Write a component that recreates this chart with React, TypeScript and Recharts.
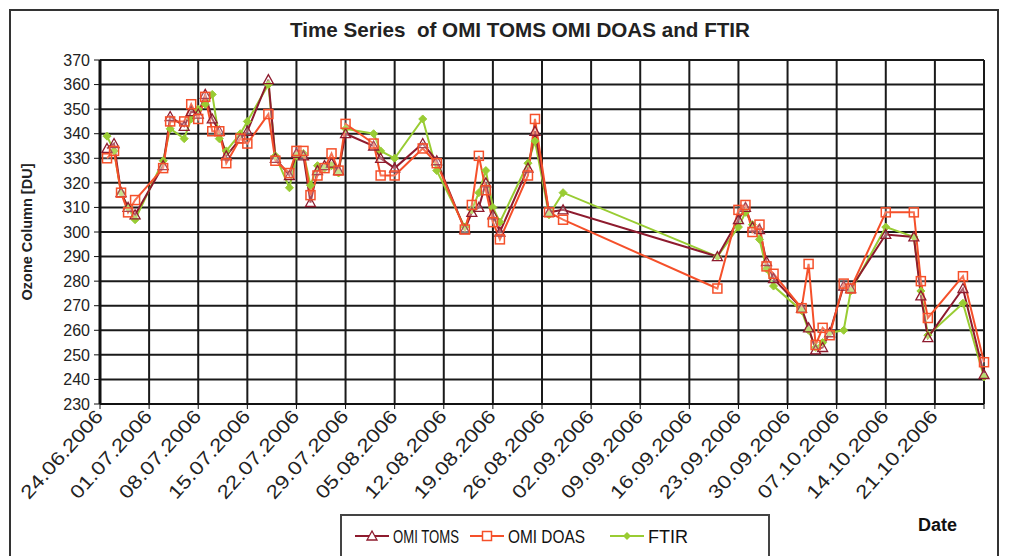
import React from 'react';
import { LineChart, Line, XAxis, YAxis, CartesianGrid, Legend } from 'recharts';

// ---- data ----
const dates = [
  '25.06.2006', '26.06.2006', '27.06.2006', '28.06.2006', '29.06.2006',
  '03.07.2006', '04.07.2006', '06.07.2006', '07.07.2006', '08.07.2006',
  '09.07.2006', '10.07.2006', '11.07.2006', '12.07.2006', '14.07.2006',
  '15.07.2006', '18.07.2006', '19.07.2006', '21.07.2006', '22.07.2006',
  '23.07.2006', '24.07.2006', '25.07.2006', '26.07.2006', '27.07.2006',
  '28.07.2006', '29.07.2006', '02.08.2006', '03.08.2006', '05.08.2006',
  '09.08.2006', '11.08.2006', '15.08.2006', '16.08.2006', '17.08.2006',
  '18.08.2006', '19.08.2006', '20.08.2006', '24.08.2006', '25.08.2006',
  '27.08.2006', '29.08.2006', '20.09.2006', '23.09.2006', '24.09.2006',
  '25.09.2006', '26.09.2006', '27.09.2006', '28.09.2006', '02.10.2006',
  '03.10.2006', '04.10.2006', '05.10.2006', '06.10.2006', '08.10.2006',
  '09.10.2006', '14.10.2006', '18.10.2006', '19.10.2006', '20.10.2006',
  '25.10.2006', '28.10.2006',
];
const omiToms = [
  334, 336, 316, 310, 307,
  327, 347, 343, 349, 348,
  356, 346, 341, 331, 338,
  341, 362, 330, 323, 332,
  331, 312, 325, 327, 328,
  325, 340, 335, 330, 326,
  336, 329, 301, 308, 310,
  320, 307, 300, 326, 341,
  308, 309, 290, 305, 310,
  302, 301, 288, 281, 269,
  261, 252, 253, 259, 278,
  277, 299, 298, 274, 257,
  277, 242,
];
const omiDoas = [
  330, 333, 316, 308, 313,
  326, 345, 345, 352, 346,
  355, 341, 341, 328, 338,
  336, 348, 329, 324, 333,
  333, 315, 323, 326, 332,
  325, 344, 336, 323, 323,
  334, 328, 301, 311, 331,
  317, 304, 297, 323, 346,
  308, 305, 277, 309, 311,
  300, 303, 286, 283, 269,
  287, 254, 261, 258, 279,
  277, 308, 308, 280, 265,
  282, 247,
];
const ftir = [
  339, 333, 316, 310, 305,
  329, 342, 338, 346, 350,
  352, 356, 338, 333, 340,
  345, 360, 331, 318, 331,
  332, 319, 327, 326, 327,
  324, 342, 340, 333, 330,
  346, 325, 302, 309, 316,
  325, 310, 304, 328, 337,
  307, 316, 290, 302, 308,
  303, 297, 285, 278, 268,
  260, 253, 255, 259, 260,
  276, 302, 298, 276, 258,
  271, 241,
];
const tickLabels = [
  '24.06.2006', '01.07.2006', '08.07.2006', '15.07.2006', '22.07.2006',
  '29.07.2006', '05.08.2006', '12.08.2006', '19.08.2006', '26.08.2006',
  '02.09.2006', '09.09.2006', '16.09.2006', '23.09.2006', '30.09.2006',
  '07.10.2006', '14.10.2006', '21.10.2006',
];
const axisEnd = '28.10.2006';
const yTicks = [230, 240, 250, 260, 270, 280, 290, 300, 310, 320, 330, 340, 350, 360, 370];

// ---- helpers ----
const START = Date.UTC(2006, 5, 24);
const dayOf = (s: string) => {
  const [d, m, y] = s.split('.').map(Number);
  return Math.round((Date.UTC(y, m - 1, d) - START) / 86400000);
};
const endDay = dayOf(axisEnd);
const xTicks = [...tickLabels.map(dayOf), endDay];
const labelByDay: Record<number, string> = {};
tickLabels.forEach((l) => { labelByDay[dayOf(l)] = l; });

const data = dates.map((d, i) => ({
  t: dayOf(d),
  toms: omiToms[i],
  doas: omiDoas[i],
  ftir: ftir[i],
}));

const C_TOMS = '#8E1B2E';
const C_DOAS = '#F5502A';
const C_FTIR = '#99CC33';
const FONT = '"Liberation Sans", Arial, sans-serif';

const TriDot = (p: any) => {
  const { cx, cy } = p;
  if (cx == null || cy == null) return null;
  return <path key={`t${cx}`} d={`M${cx},${cy - 5} L${cx + 5},${cy + 4} L${cx - 5},${cy + 4} Z`} fill="#fff" fillOpacity={0.3} stroke={C_TOMS} strokeWidth={1.3} />;
};
const SqDot = (p: any) => {
  const { cx, cy } = p;
  if (cx == null || cy == null) return null;
  return <rect key={`s${cx}`} x={cx - 4.5} y={cy - 4.5} width={9} height={9} fill="#fff" fillOpacity={0.2} stroke={C_DOAS} strokeWidth={1.5} />;
};
const DiaDot = (p: any) => {
  const { cx, cy } = p;
  if (cx == null || cy == null) return null;
  return <path key={`d${cx}`} d={`M${cx},${cy - 4} L${cx + 4},${cy} L${cx},${cy + 4} L${cx - 4},${cy} Z`} fill={C_FTIR} stroke={C_FTIR} strokeWidth={1} />;
};

const XTick = (p: any) => {
  const { x, y, payload } = p;
  const label = labelByDay[payload.value] || '';
  if (!label) return null;
  const ax = x + 4;
  const ay = y + 6;
  return (
    <text x={ax} y={ay} transform={`rotate(-48 ${ax} ${ay})`} textAnchor="end" fontFamily={FONT} fontSize={19} fill="#222"
      textLength={112} lengthAdjust="spacingAndGlyphs">
      {label}
    </text>
  );
};

const LegendBox = () => {
  const items = [
    { name: 'OMI TOMS', c: C_TOMS, m: 'tri', len: 66 },
    { name: 'OMI DOAS', c: C_DOAS, m: 'sq', len: 77 },
    { name: 'FTIR', c: C_FTIR, m: 'dia', len: 40 },
  ];
  const xs = [15, 130, 270];
  return (
    <div style={{ width: 430, height: 50, border: '2px solid #444', background: '#fff', boxSizing: 'border-box', position: 'relative' }}>
      <svg width={430} height={50} style={{ position: 'absolute', left: -2, top: -2 }}>
        {items.map((it, i) => {
          const x0 = xs[i];
          const cy = 22;
          const cx = x0 + 17;
          return (
            <g key={it.name}>
              <line x1={x0} y1={cy} x2={x0 + 34} y2={cy} stroke={it.c} strokeWidth={2} />
              {it.m === 'tri' && <path d={`M${cx},${cy - 5} L${cx + 5},${cy + 4} L${cx - 5},${cy + 4} Z`} fill="#fff" stroke={it.c} strokeWidth={1.3} />}
              {it.m === 'sq' && <rect x={cx - 4.5} y={cy - 4.5} width={9} height={9} fill="#fff" stroke={it.c} strokeWidth={1.5} />}
              {it.m === 'dia' && <path d={`M${cx},${cy - 4} L${cx + 4},${cy} L${cx},${cy + 4} L${cx - 4},${cy} Z`} fill={it.c} />}
              <text x={x0 + 38} y={cy + 7} fontFamily={FONT} fontSize={18} fill="#111" textLength={it.len} lengthAdjust="spacingAndGlyphs">{it.name}</text>
            </g>
          );
        })}
      </svg>
    </div>
  );
};

export default function App() {
  return (
    <div style={{ position: 'absolute', left: 0, top: 0, width: 1009, height: 556, background: '#fff', overflow: 'hidden' }}>
      <div style={{ position: 'absolute', left: 9, top: 9, width: 990, height: 580, border: '2px solid #333', boxSizing: 'border-box' }} />
      <svg width={1009} height={60} style={{ position: 'absolute', left: 0, top: 0 }}>
        <text x={520} y={37} textAnchor="middle" fontFamily={FONT} fontWeight="bold" fontSize={21} fill="#222" textLength={460} lengthAdjust="spacingAndGlyphs">
          {'Time Series\u00A0 of OMI TOMS OMI DOAS and FTIR'}
        </text>
      </svg>
      <div style={{ position: 'absolute', left: 27, top: 232, transform: 'translate(-50%, -50%) rotate(-90deg)', whiteSpace: 'nowrap', fontFamily: FONT, fontWeight: 'bold', fontSize: 14.5, color: '#222' }}>
        Ozone Column [DU]
      </div>
      <div style={{ position: 'absolute', left: 918, top: 515, fontFamily: FONT, fontWeight: 'bold', fontSize: 18, color: '#111' }}>
        Date
      </div>
      <div style={{ position: 'absolute', left: 0, top: 0 }}>
        <LineChart width={1009} height={556} data={data} margin={{ top: 60, right: 25, left: 40, bottom: 52 }}>
          <CartesianGrid stroke="#1a1a1a" strokeWidth={2} />
          <XAxis
            type="number"
            dataKey="t"
            domain={[0, endDay]}
            ticks={xTicks}
            interval={0}
            height={100}
            tick={<XTick />}
            axisLine={{ stroke: '#111', strokeWidth: 2 }}
            tickLine={{ stroke: '#111' }}
            tickSize={5}
          />
          <YAxis
            type="number"
            domain={[230, 370]}
            ticks={yTicks}
            interval={0}
            width={60}
            tick={{ fontFamily: FONT, fontSize: 16, fill: '#222' }}
            axisLine={{ stroke: '#111', strokeWidth: 3 }}
            tickLine={{ stroke: '#111' }}
            tickSize={6}
            tickMargin={4}
          />
          <Line type="linear" dataKey="ftir" name="FTIR" stroke={C_FTIR} strokeWidth={2} dot={<DiaDot />} isAnimationActive={false} />
          <Line type="linear" dataKey="toms" name="OMI TOMS" stroke={C_TOMS} strokeWidth={2} dot={<TriDot />} isAnimationActive={false} />
          <Line type="linear" dataKey="doas" name="OMI DOAS" stroke={C_DOAS} strokeWidth={2} dot={<SqDot />} isAnimationActive={false} />
          <Legend
            layout="horizontal"
            verticalAlign="middle"
            align="center"
            content={<LegendBox />}
            wrapperStyle={{ position: 'absolute', left: 340, top: 514, width: 430, height: 50 }}
          />
        </LineChart>
      </div>
    </div>
  );
}
